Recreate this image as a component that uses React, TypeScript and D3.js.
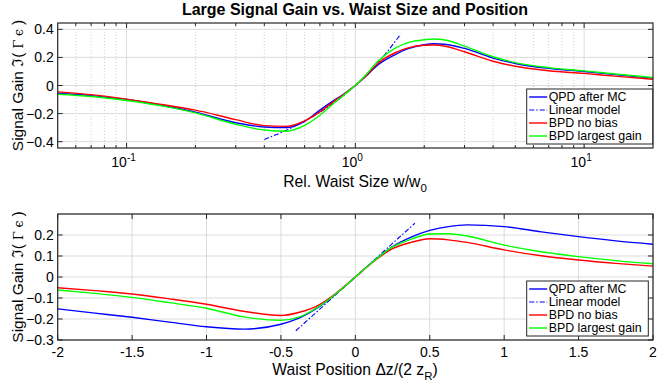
import React from "react";
import * as d3 from "d3";

// ---- data ----
const sizeX = [0.05, 0.07, 0.1, 0.15, 0.2, 0.3, 0.4, 0.5, 0.6, 0.7, 0.8, 0.9, 1, 1.1, 1.25, 1.5, 1.7, 2.0, 2.2, 2.5, 3, 4, 5, 7, 10, 14, 20];
const sizeQpd = [-0.055, -0.072, -0.1, -0.148, -0.19, -0.265, -0.295, -0.3, -0.255, -0.175, -0.11, -0.055, 0, 0.058, 0.145, 0.222, 0.262, 0.29, 0.297, 0.292, 0.264, 0.195, 0.157, 0.122, 0.1, 0.076, 0.052];
const sizeBpd = [-0.045, -0.065, -0.097, -0.141, -0.175, -0.243, -0.286, -0.291, -0.252, -0.188, -0.117, -0.057, 0, 0.06, 0.155, 0.235, 0.268, 0.287, 0.288, 0.278, 0.24, 0.173, 0.137, 0.105, 0.086, 0.065, 0.045];
const sizeBest = [-0.062, -0.078, -0.107, -0.152, -0.195, -0.276, -0.317, -0.326, -0.284, -0.212, -0.13, -0.062, 0, 0.068, 0.17, 0.268, 0.305, 0.326, 0.331, 0.322, 0.28, 0.205, 0.163, 0.127, 0.104, 0.08, 0.057];
const sizeLinX = [0.4, 0.5, 0.6, 0.7, 0.8, 0.9, 1, 1.1, 1.2, 1.3, 1.4, 1.5, 1.58];
const sizeLinY = [-0.384, -0.318, -0.254, -0.19, -0.127, -0.064, 0, 0.064, 0.127, 0.19, 0.254, 0.318, 0.366];

const posX = [-2, -1.75, -1.5, -1.25, -1, -0.75, -0.5, -0.375, -0.25, -0.125, 0, 0.125, 0.25, 0.375, 0.5, 0.625, 0.75, 1, 1.25, 1.5, 1.75, 2];
const posQpd = [-0.152, -0.172, -0.192, -0.215, -0.237, -0.248, -0.225, -0.195, -0.145, -0.077, 0, 0.077, 0.145, 0.19, 0.222, 0.24, 0.248, 0.24, 0.215, 0.192, 0.172, 0.156];
const posBpd = [-0.051, -0.065, -0.081, -0.104, -0.13, -0.163, -0.183, -0.168, -0.135, -0.075, 0, 0.075, 0.135, 0.165, 0.182, 0.177, 0.165, 0.129, 0.101, 0.081, 0.065, 0.052];
const posBest = [-0.062, -0.078, -0.097, -0.122, -0.149, -0.19, -0.206, -0.19, -0.143, -0.077, 0, 0.077, 0.143, 0.18, 0.205, 0.206, 0.195, 0.152, 0.12, 0.097, 0.078, 0.063];
const posLinX = [-0.4, 0.4];
const posLinY = [-0.256, 0.256];

const sizeYTicks = [-0.4, -0.2, 0, 0.2, 0.4];
const posYTicks = [-0.3, -0.2, -0.1, 0, 0.1, 0.2];
const posXTicks = [-2, -1.5, -1, -0.5, 0, 0.5, 1, 1.5, 2];
const legendLabels = ["QPD after MC", "Linear model", "BPD no bias", "BPD largest gain"];

const W = 659;
const H = 387;
const FONT = "'Liberation Sans', Arial, Helvetica, sans-serif";
const AX = "#262626";
const GRID = "#dcdcdc";
const BLUE = "#0000ff";
const RED = "#ff0000";
const GREEN = "#00ff00";
const TICK_FS = 14;

const zip = (xs: number[], ys: number[]) => xs.map((x, i) => [x, ys[i]] as [number, number]);

function Legend({ x, y, w }: { x: number; y: number; w: number }) {
  const styles = [
    { c: BLUE, dash: undefined as string | undefined, sw: 1.4 },
    { c: BLUE, dash: "5,2,1.5,2", sw: 1.1 },
    { c: RED, dash: undefined, sw: 1.4 },
    { c: GREEN, dash: undefined, sw: 1.4 },
  ];
  return (
    <g transform={`translate(${x},${y})`}>
      <rect x={0} y={0} width={w} height={55} fill="white" stroke={AX} strokeWidth={1} />
      {legendLabels.map((l, i) => (
        <g key={l} transform={`translate(0,${8 + i * 13})`}>
          <line x1={2.5} x2={20.5} y1={0} y2={0} stroke={styles[i].c} strokeWidth={styles[i].sw} strokeDasharray={styles[i].dash} />
          <text x={22} y={4.3} fontSize={12.4} fill="#000">{l}</text>
        </g>
      ))}
    </g>
  );
}

function YLabel({ cy }: { cy: number }) {
  return (
    <text transform={`translate(23,${cy}) rotate(-90)`} textAnchor="middle" fontSize={15.5}>
      Signal Gain <tspan fontFamily="'DejaVu Serif', serif">ℑ</tspan>(
      <tspan fontFamily="'DejaVu Serif', serif" fontSize={12.5}> Γ ϵ </tspan>)
    </text>
  );
}

function SizePanel() {
  const L = 57.7, R = 653, T = 23, B = 148;
  const x = d3.scaleLog().domain([0.05, 20]).range([L, R]);
  const y = d3.scaleLinear().domain([-0.445, 0.445]).range([B, T]);
  const line = d3.line<[number, number]>().x((d) => x(d[0])).y((d) => y(d[1])).curve(d3.curveMonotoneX);
  const major = [0.1, 1, 10];
  const minor = [0.06, 0.07, 0.08, 0.09, 0.2, 0.3, 0.4, 0.5, 0.6, 0.7, 0.8, 0.9, 2, 3, 4, 5, 6, 7, 8, 9];
  const sup = ["-1", "0", "1"];
  return (
    <g>
      <rect x={L} y={T} width={R - L} height={B - T} fill="white" />
      {minor.map((v) => (
        <line key={"mg" + v} x1={x(v)} x2={x(v)} y1={T} y2={B} stroke="#c4c4c4" strokeWidth={0.8} strokeDasharray="1,2" />
      ))}
      {major.map((v) => (
        <line key={"Mg" + v} x1={x(v)} x2={x(v)} y1={T} y2={B} stroke={GRID} strokeWidth={1} />
      ))}
      {sizeYTicks.map((v) => (
        <line key={"yg" + v} x1={L} x2={R} y1={y(v)} y2={y(v)} stroke={GRID} strokeWidth={1} />
      ))}
      <path d={line(zip(sizeLinX, sizeLinY)) ?? ""} fill="none" stroke={BLUE} strokeWidth={1.1} strokeDasharray="5,2,1.5,2" />
      <path d={line(zip(sizeX, sizeQpd)) ?? ""} fill="none" stroke={BLUE} strokeWidth={1.4} />
      <path d={line(zip(sizeX, sizeBpd)) ?? ""} fill="none" stroke={RED} strokeWidth={1.4} />
      <path d={line(zip(sizeX, sizeBest)) ?? ""} fill="none" stroke={GREEN} strokeWidth={1.4} />
      <rect x={L} y={T} width={R - L} height={B - T} fill="none" stroke={AX} strokeWidth={1.2} />
      {sizeYTicks.map((v) => (
        <g key={"yt" + v}>
          <line x1={L} x2={L + 5} y1={y(v)} y2={y(v)} stroke={AX} />
          <line x1={R - 5} x2={R} y1={y(v)} y2={y(v)} stroke={AX} />
          <text x={L - 4} y={y(v) + 5} textAnchor="end" fontSize={TICK_FS}>{v === 0 ? "0" : d3.format(".1f")(v)}</text>
        </g>
      ))}
      {major.map((v) => (
        <g key={"xt" + v}>
          <line x1={x(v)} x2={x(v)} y1={B} y2={B - 5} stroke={AX} />
          <line x1={x(v)} x2={x(v)} y1={T} y2={T + 5} stroke={AX} />
        </g>
      ))}
      {minor.map((v) => (
        <g key={"xm" + v}>
          <line x1={x(v)} x2={x(v)} y1={B} y2={B - 3} stroke={AX} />
          <line x1={x(v)} x2={x(v)} y1={T} y2={T + 3} stroke={AX} />
        </g>
      ))}
      {major.map((v, i) => (
        <text key={"xl" + v} x={x(v) - 3} y={167} textAnchor="middle" fontSize={TICK_FS}>
          10<tspan dy={-6} fontSize={10}>{sup[i]}</tspan>
        </text>
      ))}
      <text x={355} y={186.5} textAnchor="middle" fontSize={15.7}>
        Rel. Waist Size w/w<tspan dy={5} fontSize={11.5}>0</tspan>
      </text>
      <YLabel cy={(T + B) / 2} />
      <Legend x={526.7} y={89} w={126} />
    </g>
  );
}

function PosPanel() {
  const L = 57.7, R = 653, T = 214, B = 340;
  const x = d3.scaleLinear().domain([-2, 2]).range([L, R]);
  const y = d3.scaleLinear().domain([-0.3, 0.3]).range([B, T]);
  const line = d3.line<[number, number]>().x((d) => x(d[0])).y((d) => y(d[1])).curve(d3.curveMonotoneX);
  return (
    <g>
      <rect x={L} y={T} width={R - L} height={B - T} fill="white" />
      {posXTicks.map((v) => (
        <line key={"xg" + v} x1={x(v)} x2={x(v)} y1={T} y2={B} stroke={GRID} />
      ))}
      {posYTicks.concat([0.3]).map((v) => (
        <line key={"yg" + v} x1={L} x2={R} y1={y(v)} y2={y(v)} stroke={GRID} />
      ))}
      <path d={line(zip(posLinX, posLinY)) ?? ""} fill="none" stroke={BLUE} strokeWidth={1.1} strokeDasharray="5,2,1.5,2" />
      <path d={line(zip(posX, posQpd)) ?? ""} fill="none" stroke={BLUE} strokeWidth={1.4} />
      <path d={line(zip(posX, posBpd)) ?? ""} fill="none" stroke={RED} strokeWidth={1.4} />
      <path d={line(zip(posX, posBest)) ?? ""} fill="none" stroke={GREEN} strokeWidth={1.4} />
      <rect x={L} y={T} width={R - L} height={B - T} fill="none" stroke={AX} strokeWidth={1.2} />
      {posYTicks.map((v) => (
        <g key={"yt" + v}>
          <line x1={L} x2={L + 5} y1={y(v)} y2={y(v)} stroke={AX} />
          <line x1={R - 5} x2={R} y1={y(v)} y2={y(v)} stroke={AX} />
          <text x={L - 4} y={y(v) + 5} textAnchor="end" fontSize={TICK_FS}>{v === 0 ? "0" : d3.format(".1f")(v)}</text>
        </g>
      ))}
      {posXTicks.map((v) => (
        <g key={"xt" + v}>
          <line x1={x(v)} x2={x(v)} y1={B} y2={B - 5} stroke={AX} />
          <line x1={x(v)} x2={x(v)} y1={T} y2={T + 5} stroke={AX} />
          <text x={x(v)} y={357} textAnchor="middle" fontSize={TICK_FS}>{String(v)}</text>
        </g>
      ))}
      <text x={355} y={375} textAnchor="middle" fontSize={15.7}>
        Waist Position Δz/(2 z<tspan dy={5} fontSize={11.5}>R</tspan><tspan dy={-5}>)</tspan>
      </text>
      <YLabel cy={(T + B) / 2} />
      <Legend x={526.7} y={281} w={121.6} />
    </g>
  );
}

export default function App() {
  return (
    <svg width={W} height={H} style={{ position: "absolute", left: 0, top: 0, background: "white" }} fontFamily={FONT}>
      <rect width={W} height={H} fill="white" />
      <text x={355} y={15} textAnchor="middle" fontSize={16} fontWeight="bold">
        Large Signal Gain vs. Waist Size and Position
      </text>
      <SizePanel />
      <PosPanel />
    </svg>
  );
}
